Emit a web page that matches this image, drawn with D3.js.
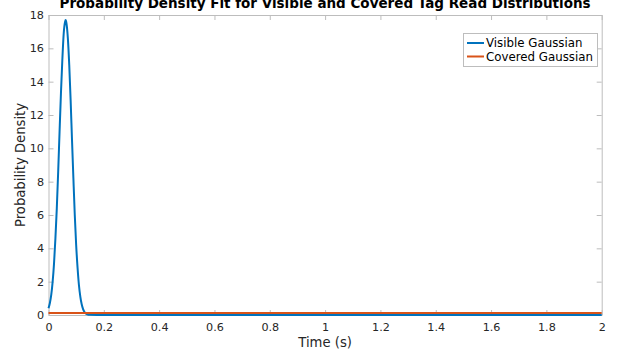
<!DOCTYPE html>
<html lang="en">
<head>
  <meta charset="UTF-8">
  <title>Probability Density Fit</title>
  <script src="https://d3js.org/d3.v7.min.js"></script>
  <style>
    body { margin: 0; background: #fff; font-family: "DejaVu Sans", sans-serif; }
    .tick text { font-size: 11.2px; fill: #262626; font-family: "DejaVu Sans", sans-serif; }
    .axis-label { font-size: 13.2px; fill: #262626; }
    .graph-title { font-size: 13.5px; font-weight: bold; text-anchor: middle; fill: #000; }
    .legend-text { font-size: 11.8px; fill: #000; }
  </style>
</head>
<body>
<script>
  // Data
  var visibleX = [0, 0.005, 0.01, 0.015, 0.02, 0.025, 0.03, 0.035, 0.04, 0.045, 0.05, 0.055,
                  0.06, 0.062, 0.065, 0.07, 0.075, 0.08, 0.085, 0.09, 0.095, 0.1, 0.105,
                  0.11, 0.115, 0.12, 0.125, 0.13, 0.14, 0.15, 0.2, 0.4, 0.6, 0.8, 1, 1.2,
                  1.4, 1.6, 1.8, 2];
  var visibleY = [0.4, 0.72, 1.22, 2.0, 3.1, 4.6, 6.4, 8.6, 11.0, 13.3, 15.3, 16.9,
                  17.6, 17.7, 17.5, 16.6, 15.0, 12.9, 10.5, 8.2, 6.0, 4.2, 2.85,
                  1.8, 1.1, 0.64, 0.35, 0.18, 0.04, 0.01, 0, 0, 0, 0, 0, 0,
                  0, 0, 0, 0];
  var coveredX = [0, 0.5, 1, 1.5, 2];
  var coveredY = [0.12, 0.12, 0.12, 0.12, 0.12];
  var seriesNames = ["Visible Gaussian", "Covered Gaussian"];
  var seriesColors = ["#0072BD", "#D95319"];
  var xTicks = [0, 0.2, 0.4, 0.6, 0.8, 1, 1.2, 1.4, 1.6, 1.8, 2];
  var yTicks = [0, 2, 4, 6, 8, 10, 12, 14, 16, 18];

  var W = 632, H = 358;
  var margin = { top: 15, right: 30, bottom: 43, left: 48.5 },
      width = 601.7 - margin.left,
      height = 315 - margin.top;

  var root = d3.select("body").append("svg")
               .attr("width", W).attr("height", H);
  var svg = root.append("g")
                .attr("transform", `translate(${margin.left},${margin.top})`);

  var xScale = d3.scaleLinear().domain([0, 2]).range([0, width]);
  var yScale = d3.scaleLinear().domain([0, 18]).range([height, 0]);

  var axisColor = "#bdbdbd";

  // Axes (ticks inside, box on)
  function styleAxis(g) {
    g.select(".domain").attr("stroke", axisColor);
    g.selectAll(".tick line").attr("stroke", axisColor);
  }
  svg.append("g")
     .attr("transform", `translate(0,${height})`)
     .call(d3.axisBottom(xScale).tickValues(xTicks).tickSizeInner(-5).tickSizeOuter(0)
           .tickPadding(8).tickFormat(d3.format("")))
     .call(styleAxis);
  svg.append("g")
     .call(d3.axisTop(xScale).tickValues(xTicks).tickSizeInner(-5).tickSizeOuter(0)
           .tickFormat(""))
     .call(styleAxis);
  svg.append("g")
     .call(d3.axisLeft(yScale).tickValues(yTicks).tickSizeInner(-5).tickSizeOuter(0)
           .tickPadding(4.5))
     .call(styleAxis);
  svg.append("g")
     .attr("transform", `translate(${width},0)`)
     .call(d3.axisRight(yScale).tickValues(yTicks).tickSizeInner(-5).tickSizeOuter(0)
           .tickFormat(""))
     .call(styleAxis);
  svg.selectAll(".domain").attr("stroke-width", 1);

  // Lines
  var visible = visibleX.map((x, i) => [x, visibleY[i]]);
  var covered = coveredX.map((x, i) => [x, coveredY[i]]);
  var lineGen = d3.line()
                  .x(d => xScale(d[0]))
                  .y(d => yScale(d[1]))
                  .curve(d3.curveMonotoneX);
  [visible, covered].forEach(function(data, i) {
    svg.append("path")
       .datum(data)
       .attr("fill", "none")
       .attr("stroke", seriesColors[i])
       .attr("stroke-width", 2)
       .attr("d", lineGen);
  });

  // Title and axis labels
  svg.append("text")
     .attr("class", "graph-title")
     .attr("x", width / 2)
     .attr("y", -7)
     .text("Probability Density Fit for Visible and Covered Tag Read Distributions");
  svg.append("text")
     .attr("class", "axis-label")
     .attr("x", width / 2)
     .attr("y", height + 32.3)
     .attr("text-anchor", "middle")
     .text("Time (s)");
  svg.append("text")
     .attr("class", "axis-label")
     .attr("transform", "rotate(-90)")
     .attr("x", -height / 2)
     .attr("y", -23.5)
     .attr("text-anchor", "middle")
     .text("Probability Density");

  // Legend
  var legend = root.append("g").attr("transform", "translate(463,33)");
  legend.append("rect")
        .attr("x", 0.5).attr("y", 0.5)
        .attr("width", 134).attr("height", 33)
        .attr("fill", "#fff").attr("stroke", "#bdbdbd");
  seriesNames.forEach(function(name, i) {
    var yy = 10 + i * 13.5;
    legend.append("line")
          .attr("x1", 4).attr("x2", 21)
          .attr("y1", yy).attr("y2", yy)
          .attr("stroke", seriesColors[i]).attr("stroke-width", 2);
    legend.append("text")
          .attr("class", "legend-text")
          .attr("x", 23).attr("y", yy + 4.3)
          .text(name);
  });
</script>
</body>
</html>
